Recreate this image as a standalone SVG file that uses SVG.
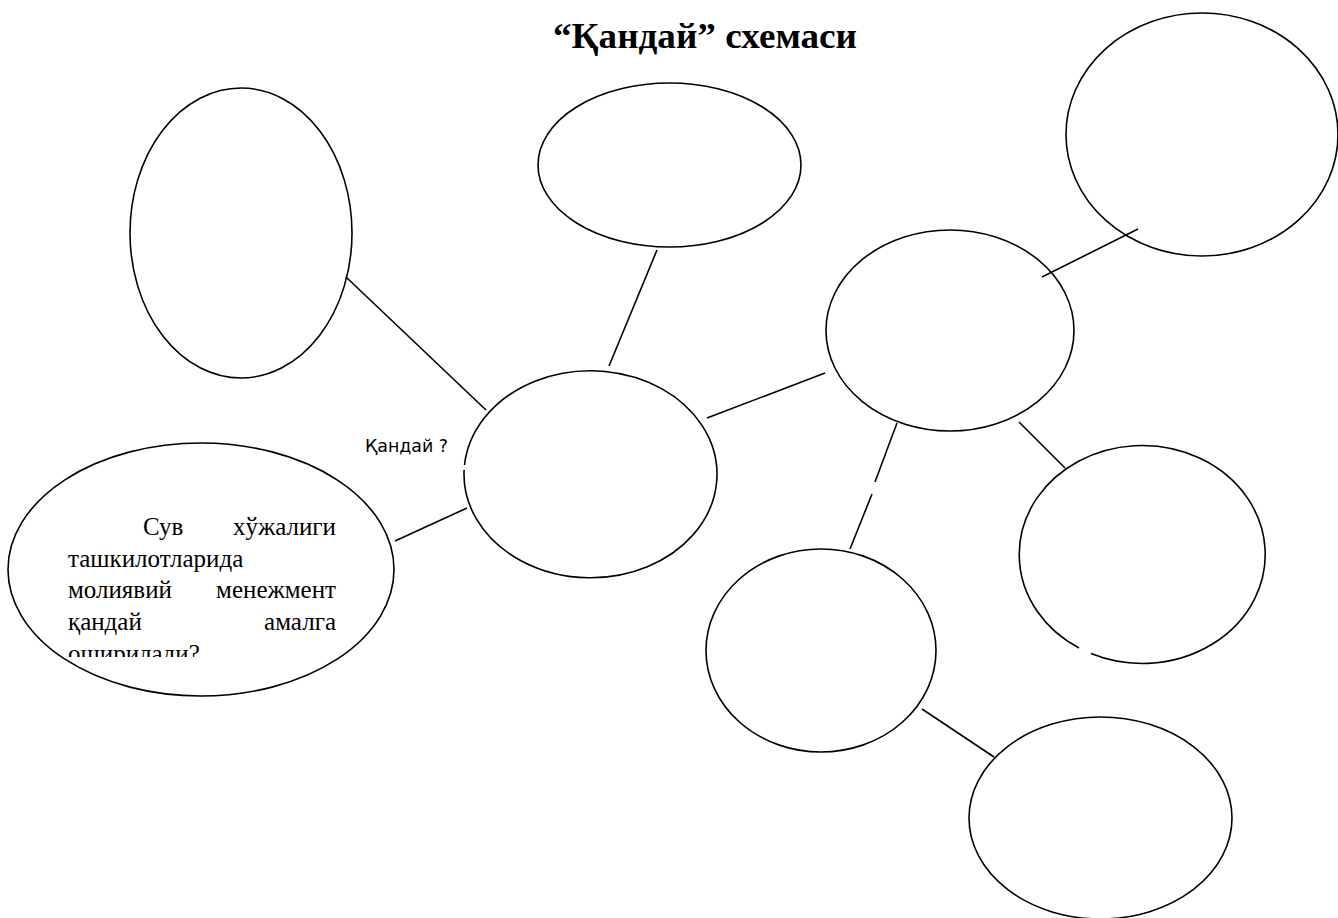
<svg xmlns="http://www.w3.org/2000/svg" width="1338" height="918" viewBox="0 0 1338 918">
<style>
.node{fill:#fff;stroke:#000;stroke-width:1.6}
.conn line{stroke:#000;stroke-width:1.6}
.title{font-family:"Liberation Serif","Times New Roman",serif;font-weight:bold;font-size:36px}
.body{font-family:"Liberation Serif","Times New Roman",serif;font-size:25px}
.lbl{font-family:"DejaVu Sans Condensed","DejaVu Sans",Tahoma,sans-serif;font-size:17px}
</style>
<defs>
<clipPath id="qclip"><rect x="40" y="500" width="320" height="157"/></clipPath>
</defs>
<rect width="1338" height="918" fill="#fff"/>
<text class="title" x="553" y="48" textLength="304" lengthAdjust="spacingAndGlyphs">“Қандай” схемаси</text>
<g id="n-left-top"><ellipse class="node" cx="241" cy="233" rx="111" ry="145"/></g>
<g id="n-top-mid"><ellipse class="node" cx="669.5" cy="165" rx="131.5" ry="82"/></g>
<g id="n-top-right"><ellipse class="node" cx="1202" cy="134.5" rx="136" ry="121.5"/></g>
<g id="n-right-mid"><ellipse class="node" cx="950" cy="330.5" rx="124" ry="100.5"/></g>
<g id="n-right-low"><path class="node" d="M1091 653.6 A123 109 0 1 0 1079 648"/></g>
<g id="n-bottom-left"><ellipse class="node" cx="821" cy="650.5" rx="115" ry="101.5"/></g>
<g id="n-bottom"><ellipse class="node" cx="1100.5" cy="818" rx="131.5" ry="101"/></g>
<g id="n-question">
<ellipse class="node" cx="201" cy="569.5" rx="193" ry="126.5"/>
<g class="body" clip-path="url(#qclip)">
<text x="143" y="535">Сув</text>
<text x="336" y="535" text-anchor="end">хўжалиги</text>
<text x="68" y="566.7">ташкилотларида</text>
<text x="68" y="598.3">молиявий</text>
<text x="336" y="598.3" text-anchor="end">менежмент</text>
<text x="68" y="630">қандай</text>
<text x="336" y="630" text-anchor="end">амалга</text>
<text x="68" y="661.7">оширилади?</text>
</g>
</g>
<g id="n-center"><path class="node" d="M464.1 470 A126.5 103.5 0 1 0 464.5 465"/></g>
<g id="label-kandai"><text class="lbl" x="365" y="452" textLength="83" lengthAdjust="spacingAndGlyphs">Қандай ?</text></g>
<g id="connectors" class="conn">
<line x1="346" y1="277" x2="486" y2="410"/>
<line x1="657" y1="250" x2="609" y2="366"/>
<line x1="707" y1="418" x2="825" y2="373"/>
<line x1="395" y1="541" x2="467" y2="508"/>
<line x1="1042" y1="277" x2="1138" y2="229"/>
<line x1="897" y1="423" x2="875" y2="482"/>
<line x1="872" y1="494" x2="850" y2="549"/>
<line x1="1019" y1="422" x2="1065" y2="468"/>
<line x1="922" y1="709" x2="994" y2="757"/>
</g>
</svg>
